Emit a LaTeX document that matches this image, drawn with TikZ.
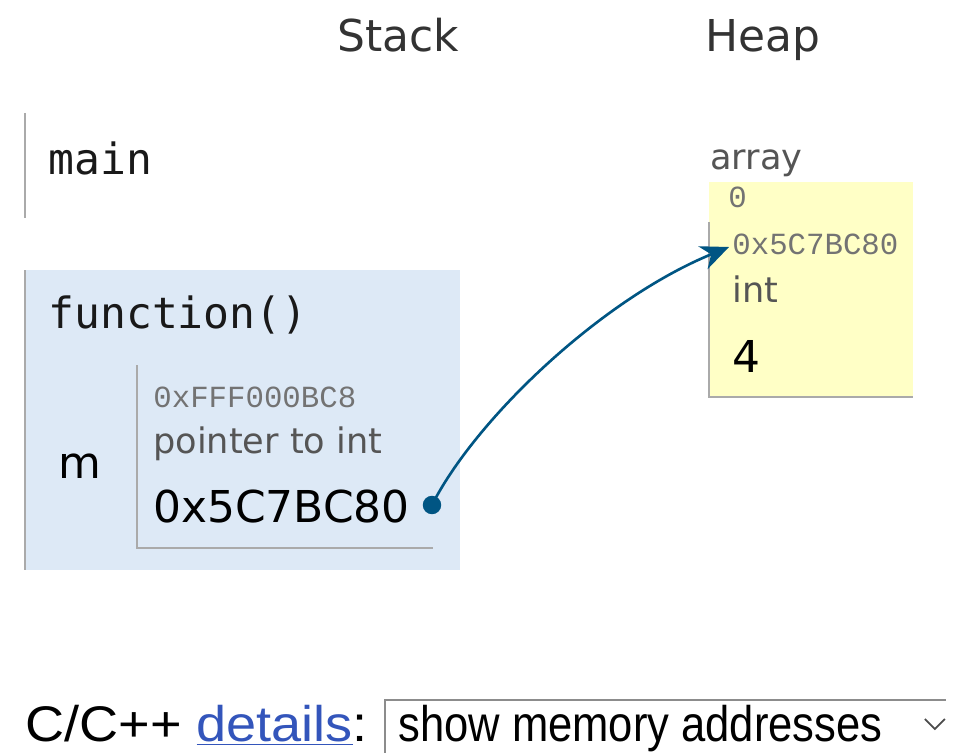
\documentclass[tikz,border=0pt]{standalone}
\usepackage{fontspec}
\setmainfont{DejaVu Sans}
\newfontfamily\codefont{DejaVu Sans Mono}
\newfontfamily\addrfont{Liberation Mono}
\newfontfamily\uifont{Liberation Sans}
\usetikzlibrary{arrows.meta, positioning}

\definecolor{framebg}{RGB}{221,233,246}
\definecolor{heapbg}{RGB}{255,255,198}
\definecolor{rulegray}{RGB}{170,170,170}
\definecolor{ptrblue}{RGB}{0,85,131}
\definecolor{labelgray}{RGB}{85,85,85}
\definecolor{addrgray}{RGB}{115,115,115}
\definecolor{linkblue}{RGB}{51,85,187}

\begin{document}
\begin{tikzpicture}[x=0.02cm,y=-0.02cm,
    every node/.style={inner sep=0pt,anchor=base west},
    header/.style={font=\fontsize{25}{30}\selectfont,text=black!80,anchor=base},
    framename/.style={font=\codefont\fontsize{24.5}{29}\selectfont,text=black!90},
    addr/.style={font=\addrfont\fontsize{17.5}{21}\selectfont,text=addrgray},
    typename/.style={font=\fontsize{20}{24}\selectfont,text=labelgray},
    bigval/.style={font=\fontsize{25}{30}\selectfont,text=black},
    uitext/.style={font=\uifont\fontsize{28.5}{34}\selectfont},
    rule/.style={draw=rulegray,line width=1.2pt}]
    \useasboundingbox (0,0) rectangle (963,753);

    % Intestazioni
    \node[header] (stk) at (398,52) {Stack};
    \node[header] (hp) at (763,52) {Heap};

    % Frame main
    \draw[rule] (25,113) -- (25,218);
    \node[framename] (fmain) at (48,175) {main};

    % Frame function()
    \fill[framebg] (25,270) rectangle (460,570);
    \draw[rule] (25,270) -- (25,570);
    \node[framename] (ffun) at (48,328) {function()};
    \node[bigval] (vm) at (58,478) {m};
    \draw[rule] (137,365) -- (137,548) -- (433,548);
    \node[addr] (maddr) at (153,407) {0xFFF000BC8};
    \node[typename] (mtype) at (153,453) {pointer to int};
    \node[bigval] (mval) at (153,522) {0x5C7BC80};
    \node[circle,fill=ptrblue,minimum size=10.5pt,anchor=center] (dot) at (432,505) {};

    % Oggetto nello heap
    \node[typename] (harr) at (710,170) {array};
    \fill[heapbg] (709,182) rectangle (913,397);
    \draw[rule] (709,222) -- (709,397) -- (913,397);
    \node[addr] (hidx) at (728,208) {0};
    \node[addr] (haddr) at (732,255) {0x5C7BC80};
    \node[typename] (htype) at (732,302) {int};
    \node[bigval] (hval) at (732,372) {4};
    \coordinate (tgt) at (729,247);

    % Puntatore
    \draw[ptrblue,line width=1.5pt,-{Stealth[length=16pt,width=14pt,inset=5pt]}]
        (dot.center) .. controls (475,420) and (600,300) .. (tgt);

    % Barra in basso
    \node[uitext] (opts) at (25,741)
        {\scalebox{1.08}[1]{C/C++ \textcolor{linkblue}{\underline{details}}:}};
    \draw[draw=black!45,line width=1.6pt] (385,753) -- (385,700) -- (946,700);
    \node[uitext] (sel) at (398,741)
        {\scalebox{0.87}[1]{show memory addresses}};
    \draw[black!70,line width=1pt] (sel.base east) ++(42,-22) coordinate (chv)
        -- ++(10,10) -- ++(10,-10);
\end{tikzpicture}
\end{document}
